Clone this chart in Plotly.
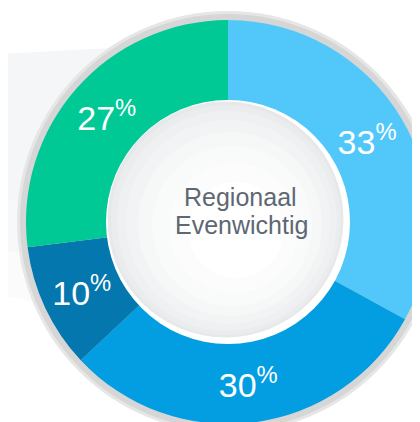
import plotly.graph_objects as go

# ---- data ----
labels = ["Segment A", "Segment B", "Segment C", "Segment D"]
values = [33, 30, 10, 27]
colors = ["#52c8fa", "#039ee1", "#0377ae", "#00c996"]
center_lines = ["Regionaal", "Evenwichtig"]

# ---- geometry (page pixels; the page body has an 8px margin) ----
OFF = 8
W, H = 424, 418
cx, cy, R = 228, 222, 202

def px(x):
    return (x - OFF) / W

def py(y):
    return 1 - (y - OFF) / H

def circle(r, fill, layer, ox=0, oy=0):
    return dict(type="circle", xref="paper", yref="paper",
                x0=px(cx + ox - r), x1=px(cx + ox + r),
                y0=py(cy + oy + r), y1=py(cy + oy - r),
                fillcolor=fill, line=dict(width=0), layer=layer)

def poly(points, fill, layer="below"):
    d = "M " + " L ".join(f"{px(x):.5f},{py(y):.5f}" for x, y in points) + " Z"
    return dict(type="path", xref="paper", yref="paper", path=d,
                fillcolor=fill, line=dict(width=0), layer=layer)

fig = go.Figure()
fig.add_trace(go.Pie(
    values=values, labels=labels, sort=False, direction="clockwise", rotation=0,
    hole=0.6,
    marker=dict(colors=colors, line=dict(width=0)),
    texttemplate="%{value}<sup>%</sup>", textposition="inside",
    insidetextorientation="horizontal",
    textfont=dict(size=34, color="white", family="Liberation Sans, Arial, sans-serif"),
    domain=dict(x=[px(cx - R), min(1, px(cx + R))], y=[max(0, py(cy + R)), py(cy - R)]),
    showlegend=False, hoverinfo="skip",
))

shapes = [
    poly([(0, 54), (230, 42), (230, 230), (0, 200)], "#f4f6f7"),
    poly([(0, 200), (230, 230), (230, 290), (0, 250)], "#f7f8f9"),
    poly([(0, 250), (230, 290), (230, 340), (0, 295)], "#fbfbfc"),
    circle(211, "#e6e6e6", "below"),
    circle(208, "#d6d6d6", "below"),
    circle(122, "#ffffff", "above"),
    circle(118, "#e6e8ea", "above", -2.5, -2.5),
    circle(115, "#eaeced", "above", -2, -2),
    circle(110, "#eef0f1", "above", -1, -1),
    circle(102, "#f2f3f4", "above", 0, 0),
    circle(92, "#f6f7f7", "above", 2, 2),
    circle(80, "#f9fafa", "above", 4, 4),
    circle(65, "#fcfcfc", "above", 6, 6),
    circle(48, "#ffffff", "above", 8, 8),
]

font = dict(size=25, color="#5d6872", family="Liberation Sans, Arial, sans-serif")
annotations = [
    dict(text=center_lines[0], x=px(240), y=py(197), xref="paper", yref="paper",
         showarrow=False, xanchor="center", yanchor="middle", font=font),
    dict(text=center_lines[1], x=px(241.5), y=py(225), xref="paper", yref="paper",
         showarrow=False, xanchor="center", yanchor="middle", font=font),
]

fig.update_layout(
    width=W, height=H,
    margin=dict(l=0, r=0, t=0, b=0),
    paper_bgcolor="white", plot_bgcolor="white",
    shapes=shapes, annotations=annotations,
    showlegend=False,
)

fig.write_html("out.html")
